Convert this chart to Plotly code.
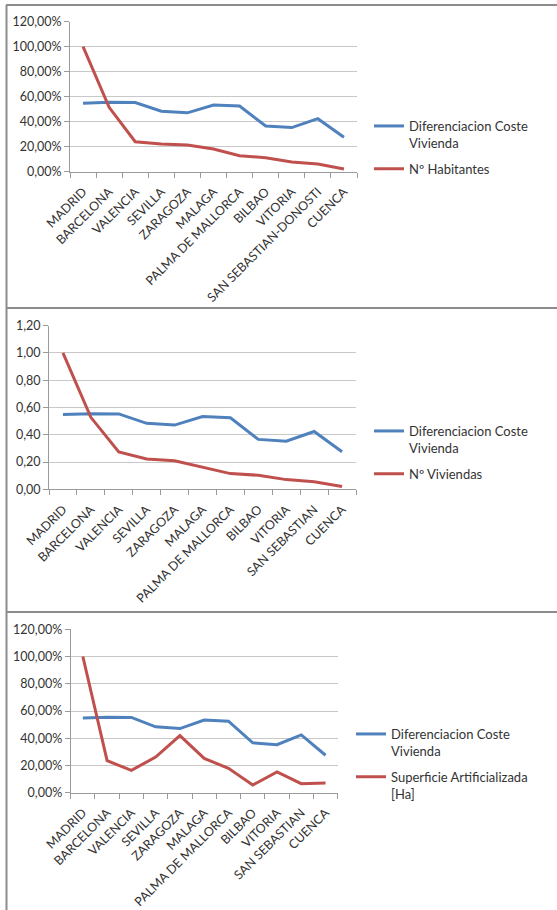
import plotly.graph_objects as go

cities_1 = ["MADRID", "BARCELONA", "VALENCIA", "SEVILLA", "ZARAGOZA", "MALAGA",
            "PALMA DE MALLORCA", "BILBAO", "VITORIA", "SAN SEBASTIAN-DONOSTI", "CUENCA"]
cities_2 = ["MADRID", "BARCELONA", "VALENCIA", "SEVILLA", "ZARAGOZA", "MALAGA",
            "PALMA DE MALLORCA", "BILBAO", "VITORIA", "SAN SEBASTIAN", "CUENCA"]

coste_vivienda = [0.548, 0.555, 0.553, 0.484, 0.471, 0.534, 0.525, 0.366, 0.353, 0.424, 0.275]
habitantes = [1.00, 0.515, 0.240, 0.221, 0.213, 0.181, 0.128, 0.112, 0.077, 0.061, 0.021]
viviendas = [1.00, 0.528, 0.274, 0.222, 0.210, 0.164, 0.115, 0.103, 0.071, 0.056, 0.020]
superficie = [1.00, 0.235, 0.164, 0.262, 0.419, 0.252, 0.179, 0.056, 0.153, 0.066, 0.071]

name_coste = "Diferenciacion Coste<br>Vivienda"
name_hab = "Nº Habitantes"
name_viv = "Nº Viviendas"
name_sup = "Superficie Artificializada<br>[Ha]"

BLUE = "#4F81BD"
RED = "#C0504D"
FONT = "Lato"
TXT = "#333333"
GRID = "#c8c8c8"
AXIS = "#9a9a9a"

W, H = 557, 910
idx = list(range(len(cities_1)))

fig = go.Figure()

panels = [
    ("", cities_1, habitantes, name_hab, "legend", (70, 357), (21.7, 171.7), ".2%"),
    ("2", cities_2, viviendas, name_viv, "legend2", (49, 356), (325.7, 489.3), ".2f"),
    ("3", cities_2, superficie, name_sup, "legend3", (70.7, 337.7), (629.3, 792.7), ".2%"),
]

for suf, cities, ser, nm, leg, xd, yd, fmt in panels:
    xa = "x" + suf
    ya = "y" + suf
    fig.add_trace(go.Scatter(x=idx, y=coste_vivienda, mode="lines", name=name_coste,
                             legendgroup="a" + suf,
                             line=dict(color=BLUE, width=3), xaxis=xa, yaxis=ya, legend=leg))
    fig.add_trace(go.Scatter(x=idx, y=ser, mode="lines", name=nm,
                             legendgroup="b" + suf,
                             line=dict(color=RED, width=3), xaxis=xa, yaxis=ya, legend=leg))
    fig.layout["xaxis" + suf] = dict(
        domain=[xd[0] / W, xd[1] / W], anchor=ya, automargin=False,
        range=[-0.5, len(cities) - 0.5],
        tickmode="array", tickvals=idx, ticktext=cities, tickangle=-45,
        ticks="", ticklabelstandoff=7, showgrid=False, zeroline=False,
        showline=True, linecolor=AXIS, linewidth=1,
        tickfont=dict(family=FONT, size=12.5, color=TXT),
        minor=dict(tickmode="array", tickvals=[i - 0.5 for i in range(len(cities) + 1)],
                   ticks="outside", ticklen=5, tickcolor=AXIS, showgrid=False),
        fixedrange=True,
    )
    fig.layout["yaxis" + suf] = dict(
        domain=[1 - yd[1] / H, 1 - yd[0] / H], anchor=xa, automargin=False,
        range=[0, 1.2], dtick=0.2, tick0=0, tickformat=fmt,
        showgrid=True, gridcolor=GRID, gridwidth=1, zeroline=False,
        showline=True, linecolor=AXIS, linewidth=1,
        ticks="outside", ticklen=5, tickcolor=AXIS,
        tickfont=dict(family=FONT, size=12.5, color=TXT),
        fixedrange=True,
    )

legend_common = dict(xanchor="left", yanchor="top", valign="top",
                     bgcolor="rgba(0,0,0,0)", font=dict(family=FONT, size=13, color=TXT),
                     itemwidth=30, tracegroupgap=6)
fig.update_layout(
    legend=dict(x=369 / W, y=1 - 111 / H, **legend_common),
    legend2=dict(x=369 / W, y=1 - 416 / H, **legend_common),
    legend3=dict(x=351 / W, y=1 - 719 / H, **legend_common),
)

shapes = []
for py in [5, 308, 612]:
    shapes.append(dict(type="line", xref="paper", yref="paper", x0=6 / W, x1=1,
                       y0=1 - py / H, y1=1 - py / H, line=dict(color="#8c8c8c", width=2)))
shapes.append(dict(type="line", xref="paper", yref="paper", x0=6.5 / W, x1=6.5 / W,
                   y0=0, y1=1 - 5 / H, line=dict(color="#8c8c8c", width=2)))

fig.update_layout(
    width=W, height=H, margin=dict(l=0, r=0, t=0, b=0, autoexpand=False),
    paper_bgcolor="white", plot_bgcolor="white",
    separators=",.", showlegend=True, shapes=shapes,
    font=dict(family=FONT, color=TXT),
)

fig.write_html("out.html", include_plotlyjs=True, config={"displayModeBar": False})
